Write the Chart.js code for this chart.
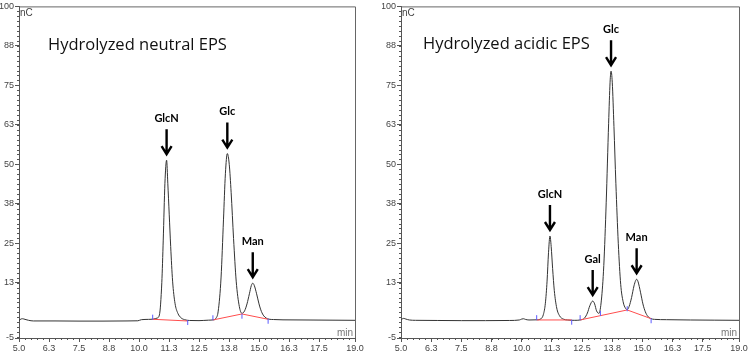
<!DOCTYPE html>
<html>
<head>
<meta charset="utf-8">
<script src="https://cdn.jsdelivr.net/npm/chart.js@4"></script>
<style>
  html, body { margin: 0; padding: 0; background: #fff; }
  #wrap { position: relative; width: 750px; height: 353px; }
  .box { position: absolute; top: 0; width: 375px; height: 353px; }
</style>
</head>
<body>
<div id="wrap">
  <div class="box" style="left:0"><canvas id="neutralChart"></canvas></div>
  <div class="box" style="left:375px"><canvas id="acidicChart"></canvas></div>
</div>
<script>
// axis ticks (min, nC)
const xTicks = [5, 6.25, 7.5, 8.75, 10, 11.25, 12.5, 13.75, 15, 16.25, 17.5, 19];
const xTickLabels = ['5.0', '6.3', '7.5', '8.8', '10.0', '11.3', '12.5', '13.8', '15.0', '16.3', '17.5', '19.0'];
const yTicks = [-5, 12.5, 25, 37.5, 50, 62.5, 75, 87.5, 100];
const yTickLabels = ['-5', '13', '25', '38', '50', '63', '75', '88', '100'];

// hydrolyzed neutral EPS trace
const neutralTime = [5.0, 5.08, 5.15, 5.25, 5.4, 5.6, 6.5, 7.5, 8.5, 9.5, 9.95, 10.1, 10.4, 10.6, 10.75, 10.85, 10.95, 11.01, 11.08, 11.15,
  11.2, 11.26, 11.32, 11.4, 11.5, 11.62, 11.75, 11.9, 12.1, 12.5, 12.9, 13.1, 13.2, 13.3, 13.42, 13.52, 13.6, 13.68, 13.76, 13.84,
  13.94, 14.05, 14.18, 14.29, 14.4, 14.5, 14.6, 14.68, 14.74, 14.8, 14.9, 15.0, 15.1, 15.2, 15.3, 15.42, 15.6, 16.0, 17.0, 18.0, 19.0];
const neutralSignal = [0.5, 1.0, 1.1, 0.9, 0.6, 0.4, 0.4, 0.35, 0.35, 0.4, 0.45, 0.8, 0.9, 1.0, 1.3, 2.3, 12.5, 26, 44, 51.3,
  44, 34, 24, 13, 6, 2.8, 1.4, 0.8, 0.55, 0.5, 0.65, 0.75, 1.2, 3.5, 14.3, 32.4, 47, 53.4, 50, 41,
  26.5, 13, 5, 2.8, 3.6, 5.8, 9, 11.6, 12.35, 11.7, 9, 5.8, 3.4, 2.0, 1.3, 0.95, 0.85, 0.75, 0.7, 0.65, 0.6];
const neutralBaseTime = [10.57, 12.03, 12.5, 13.08, 14.29, 15.38];
const neutralBaseSignal = [0.93, 0.39, null, 0.71, 2.61, 0.93];
const neutralMarkTime = [10.57, 12.03, 13.08, 14.29, 15.38];
const neutralMarkSignal = [1.6, -0.1, 1.4, 1.9, 0.3];
const neutralPeakNames = ['GlcN', 'Glc', 'Man'];
const neutralPeakTime = [11.15, 13.68, 14.74];
const neutralPeakSignal = [51.3, 53.4, 12.35];

// hydrolyzed acidic EPS trace
const acidicTime = [5.0, 5.06, 5.12, 5.2, 5.35, 5.6, 6.5, 7.5, 8.5, 9.5, 9.9, 10.0, 10.07, 10.15, 10.3, 10.6, 10.8, 10.9, 10.98, 11.05,
  11.11, 11.17, 11.22, 11.28, 11.35, 11.45, 11.57, 11.72, 11.9, 12.2, 12.45, 12.6, 12.72, 12.82, 12.94, 13.02, 13.1, 13.2, 13.3, 13.4,
  13.5, 13.6, 13.66, 13.7, 13.75, 13.82, 13.9, 14.0, 14.1, 14.2, 14.3, 14.37, 14.45, 14.55, 14.65, 14.72, 14.76, 14.82, 14.92, 15.02,
  15.12, 15.22, 15.35, 15.5, 16.0, 17.0, 18.0, 19.0];
const acidicSignal = [0.6, 1.1, 1.2, 1.0, 0.7, 0.6, 0.55, 0.5, 0.5, 0.55, 0.7, 1.0, 1.1, 0.9, 0.7, 0.75, 1.1, 2.5, 6, 13,
  22, 27.3, 24, 17, 10, 4.5, 2, 1.0, 0.7, 0.6, 0.75, 1.3, 2.9, 5.2, 6.7, 5.8, 3.6, 2.8, 7, 18,
  38, 63, 76, 79.5, 76, 62, 44, 25, 12, 6.5, 4.4, 4.0, 5, 7.8, 11.5, 13.2, 13.6, 12.8, 9.5, 5.8,
  3.3, 1.9, 1.15, 0.9, 0.8, 0.7, 0.65, 0.6];
const acidicBaseTime = [10.62, 12.07, 12.25, 12.42, 14.37, 15.36];
const acidicBaseSignal = [0.71, 0.71, null, 0.71, 3.88, 1.12];
const acidicMarkTime = [10.62, 12.07, 12.42, 13.26, 14.37, 15.36];
const acidicMarkSignal = [1.44, 0.0, 1.44, 2.8, 4.26, 0.46];
const acidicPeakNames = ['GlcN', 'Gal', 'Glc', 'Man'];
const acidicPeakTime = [11.17, 12.94, 13.7, 14.76];
const acidicPeakSignal = [27.3, 6.7, 79.5, 13.6];

const tickFont = { family: 'Liberation Sans', size: 9 };

// frame, minor ticks, titles and peak arrows
const chromPlugin = {
    id: 'chrom',
    afterDraw(chart, args, opts) {
        const ctx = chart.ctx;
        const a = chart.chartArea;
        const xs = chart.scales.x;
        const ys = chart.scales.y;
        ctx.save();

        ctx.strokeStyle = '#666';
        ctx.lineWidth = 1;
        ctx.beginPath();
        ctx.moveTo(a.left, a.top + 0.5);
        ctx.lineTo(a.right + 0.5, a.top + 0.5);
        ctx.lineTo(a.right + 0.5, a.bottom);
        ctx.stroke();

        ctx.strokeStyle = '#555';
        ctx.beginPath();
        for (let k = 0; k <= 56; k++) {
            const px = Math.round(xs.getPixelForValue(5 + k * 0.25)) + 0.5;
            ctx.moveTo(px, a.bottom);
            ctx.lineTo(px, a.bottom + 2);
        }
        for (let k = -3; k <= 64; k++) {
            const py = Math.round(ys.getPixelForValue(k * 1.5625)) + 0.5;
            ctx.moveTo(a.left, py);
            ctx.lineTo(a.left - 2, py);
        }
        ctx.stroke();

        ctx.fillStyle = '#111';
        ctx.font = '16.5px "Open Sans"';
        ctx.textAlign = 'left';
        ctx.textBaseline = 'middle';
        ctx.fillText(opts.title, a.left + opts.titleDx, opts.titleY);

        ctx.font = '10px "Liberation Sans"';
        ctx.fillStyle = '#444';
        ctx.fillText('nC', a.left + 1, a.top + 7);
        ctx.textAlign = 'right';
        ctx.fillStyle = '#777';
        ctx.fillText('min', a.right - 2, a.bottom - 5);

        ctx.strokeStyle = '#000';
        ctx.fillStyle = '#000';
        ctx.lineWidth = 2.4;
        ctx.textAlign = 'center';
        ctx.font = 'bold 11px Lato';
        opts.names.forEach((name, i) => {
            const px = xs.getPixelForValue(opts.times[i]);
            const tip = ys.getPixelForValue(opts.values[i]) - 6;
            ctx.beginPath();
            ctx.moveTo(px, tip - 25);
            ctx.lineTo(px, tip - 2);
            ctx.moveTo(px - 5, tip - 8);
            ctx.lineTo(px, tip);
            ctx.lineTo(px + 5, tip - 8);
            ctx.stroke();
            ctx.fillText(name, px, tip - 36);
        });
        ctx.restore();
    }
};

function makeChart(id, cfg) {
    const toXY = (t, s) => t.map((x, i) => ({ x: x, y: s[i] }));
    return new Chart(document.getElementById(id), {
        type: 'line',
        data: {
            datasets: [{
                data: toXY(cfg.markTime, cfg.markSignal),
                showLine: false,
                pointStyle: 'line',
                rotation: 90,
                pointRadius: 2.5,
                borderColor: '#5a5aff',
                borderWidth: 1
            }, {
                data: toXY(cfg.baseTime, cfg.baseSignal),
                borderColor: '#ff4d4d',
                borderWidth: 1,
                pointRadius: 0,
                tension: 0,
                spanGaps: false
            }, {
                data: toXY(cfg.time, cfg.signal),
                borderColor: '#333',
                borderWidth: 1,
                pointRadius: 0,
                cubicInterpolationMode: 'monotone'
            }]
        },
        options: {
            responsive: true,
            maintainAspectRatio: false,
            animation: false,
            layout: { padding: cfg.padding },
            plugins: {
                legend: { display: false },
                tooltip: { enabled: false },
                chrom: {
                    title: cfg.title, titleDx: cfg.titleDx, titleY: cfg.titleY,
                    names: cfg.names, times: cfg.peakTime, values: cfg.peakSignal
                }
            },
            scales: {
                x: {
                    type: 'linear',
                    min: 5,
                    max: 19,
                    afterBuildTicks: (scale) => { scale.ticks = xTicks.map(v => ({ value: v })); },
                    afterFit: (scale) => { scale.height = 15; },
                    ticks: {
                        autoSkip: false, maxRotation: 0, padding: 1,
                        font: tickFont, color: '#444',
                        callback: (value, index) => xTickLabels[index]
                    },
                    grid: { drawOnChartArea: false, drawTicks: true, tickLength: 4, color: '#555' },
                    border: { color: '#555', width: 1 }
                },
                y: {
                    min: -5,
                    max: 100,
                    afterBuildTicks: (scale) => { scale.ticks = yTicks.map(v => ({ value: v })); },
                    afterFit: (scale) => { scale.width = 19; },
                    ticks: {
                        autoSkip: false, padding: 1,
                        font: tickFont, color: '#444',
                        callback: (value, index) => yTickLabels[index]
                    },
                    grid: { drawOnChartArea: false, drawTicks: true, tickLength: 4, color: '#555' },
                    border: { color: '#555', width: 1 }
                }
            }
        },
        plugins: [chromPlugin]
    });
}

makeChart('neutralChart', {
    time: neutralTime, signal: neutralSignal,
    baseTime: neutralBaseTime, baseSignal: neutralBaseSignal,
    markTime: neutralMarkTime, markSignal: neutralMarkSignal,
    names: neutralPeakNames, peakTime: neutralPeakTime, peakSignal: neutralPeakSignal,
    title: 'Hydrolyzed neutral EPS', titleDx: 29, titleY: 45,
    padding: { left: 0, top: 6, right: 20, bottom: 0 }
});

makeChart('acidicChart', {
    time: acidicTime, signal: acidicSignal,
    baseTime: acidicBaseTime, baseSignal: acidicBaseSignal,
    markTime: acidicMarkTime, markSignal: acidicMarkSignal,
    names: acidicPeakNames, peakTime: acidicPeakTime, peakSignal: acidicPeakSignal,
    title: 'Hydrolyzed acidic EPS', titleDx: 22, titleY: 44,
    padding: { left: 7, top: 6, right: 11, bottom: 0 }
});
</script>
</body>
</html>
